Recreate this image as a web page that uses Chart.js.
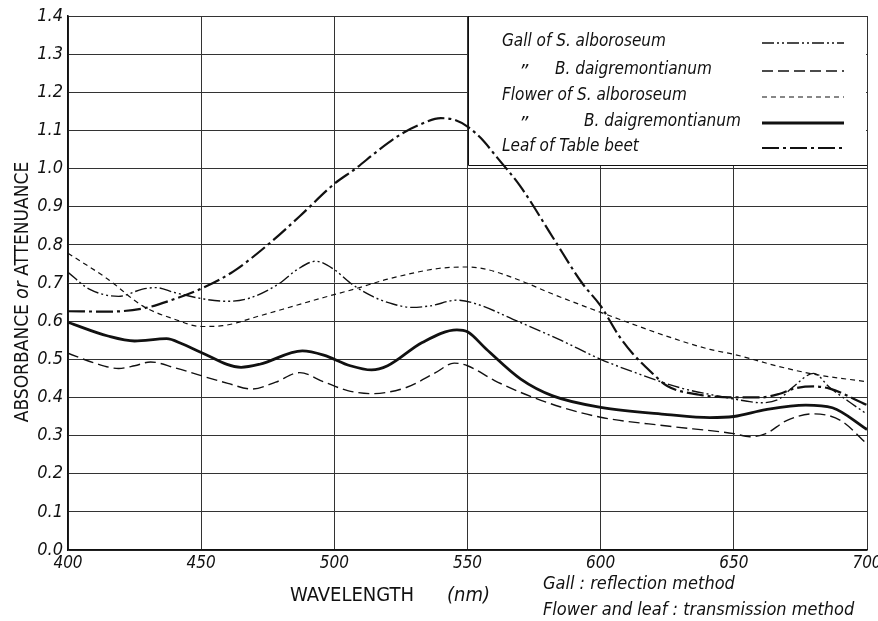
<!DOCTYPE html>
<html>
<head>
<meta charset="utf-8">
<script src="https://cdn.jsdelivr.net/npm/chart.js@4"></script>
<style>
  html, body { margin: 0; padding: 0; background: #fff; }
  canvas { display: block; }
</style>
</head>
<body>
<canvas id="chart" width="878" height="621"></canvas>
<script>
// wavelength (nm) / absorbance
const gallSalbNm  = [400, 408, 419, 428, 433, 440, 451, 460, 468, 479, 486, 493, 500, 506, 514, 522, 529, 536, 546, 552, 570, 585, 600, 615, 630, 647, 655, 660, 667, 672, 680, 686, 693, 700];
const gallSalbAbs = [0.728, 0.684, 0.665, 0.684, 0.688, 0.675, 0.658, 0.652, 0.66, 0.697, 0.735, 0.757, 0.735, 0.70, 0.666, 0.645, 0.636, 0.64, 0.655, 0.648, 0.596, 0.55, 0.5, 0.46, 0.425, 0.40, 0.39, 0.386, 0.396, 0.426, 0.463, 0.426, 0.39, 0.356];

const gallBdaiNm  = [400, 410, 419, 425, 431, 440, 450, 460, 469, 478, 487, 496, 505, 514, 527, 538, 545, 550, 560, 570, 585, 600, 625, 650, 656, 662, 670, 680, 690, 700];
const gallBdaiAbs = [0.516, 0.49, 0.476, 0.483, 0.493, 0.478, 0.457, 0.437, 0.422, 0.44, 0.465, 0.441, 0.418, 0.41, 0.426, 0.465, 0.49, 0.483, 0.445, 0.413, 0.375, 0.348, 0.325, 0.305, 0.297, 0.305, 0.34, 0.357, 0.34, 0.278];

const flowerSalbNm  = [400, 415, 428, 440, 450, 458, 472, 485, 496, 508, 520, 539, 550, 557, 570, 582, 600, 607, 625, 641, 650, 667, 680, 700];
const flowerSalbAbs = [0.778, 0.71, 0.64, 0.605, 0.586, 0.588, 0.614, 0.64, 0.662, 0.685, 0.71, 0.738, 0.742, 0.736, 0.706, 0.671, 0.623, 0.605, 0.56, 0.526, 0.513, 0.481, 0.461, 0.441];

const flowerBdaiNm  = [400, 415, 425, 437, 443, 450, 465, 472, 488, 496, 506, 514, 520, 533, 546, 550, 557, 570, 582, 600, 625, 641, 650, 662, 677, 687, 700];
const flowerBdaiAbs = [0.597, 0.561, 0.548, 0.554, 0.54, 0.518, 0.479, 0.487, 0.522, 0.511, 0.483, 0.472, 0.483, 0.544, 0.577, 0.572, 0.527, 0.448, 0.404, 0.374, 0.355, 0.347, 0.35, 0.368, 0.38, 0.373, 0.316];

const leafNm  = [400, 415, 428, 440, 450, 462, 475, 487, 500, 508, 516, 525, 532, 540, 545, 550, 555, 561, 570, 582, 593, 600, 607, 612, 619, 625, 637, 650, 660, 667, 673, 680, 686, 700];
const leafAbs = [0.626, 0.625, 0.633, 0.658, 0.685, 0.73, 0.80, 0.875, 0.96, 1.0, 1.045, 1.09, 1.115, 1.132, 1.128, 1.11, 1.08, 1.03, 0.952, 0.82, 0.70, 0.64, 0.56, 0.515, 0.466, 0.43, 0.407, 0.40, 0.40, 0.409, 0.424, 0.429, 0.423, 0.38];

const xTicks = [400, 450, 500, 550, 600, 650, 700];
const yTickStep = 0.1;

// legend rows: ditto mark + name
const legendDitto = ["", "\u201D", "", "\u201D", ""];
const legendNames = ["Gall of S. alboroseum", "B. daigremontianum", "Flower of S. alboroseum", "B. daigremontianum", "Leaf of Table beet"];

const FONT = "'Liberation Sans Narrow', 'DejaVu Sans Condensed', 'Open Sans', sans-serif";
const INK = "#111";

const toPoints = (xs, ys) => xs.map((x, i) => ({ x: x, y: ys[i] }));

const datasets = [
  { label: legendNames[0], data: toPoints(gallSalbNm, gallSalbAbs), borderDash: [12, 3, 2, 3, 2, 3], borderWidth: 1.4 },
  { label: legendNames[1], data: toPoints(gallBdaiNm, gallBdaiAbs), borderDash: [11, 5], borderWidth: 1.4 },
  { label: legendNames[2], data: toPoints(flowerSalbNm, flowerSalbAbs), borderDash: [5, 4], borderWidth: 1.2 },
  { label: legendNames[3], data: toPoints(flowerBdaiNm, flowerBdaiAbs), borderDash: [], borderWidth: 2.8 },
  { label: legendNames[4], data: toPoints(leafNm, leafAbs), borderDash: [17, 4, 3, 4], borderWidth: 2.2 },
].map(d => Object.assign(d, {
  borderColor: INK,
  pointRadius: 0,
  fill: false,
  cubicInterpolationMode: "monotone",
}));

// draws text where upper case is upright and lower case italic
function mixedText(ctx, parts, x, y, size) {
  let total = 0;
  parts.forEach(p => {
    ctx.font = (p.italic ? "italic " : "") + size + "px " + FONT;
    total += ctx.measureText(p.text).width;
  });
  let cx = x - total / 2;
  parts.forEach(p => {
    ctx.font = (p.italic ? "italic " : "") + size + "px " + FONT;
    ctx.fillText(p.text, cx, y);
    cx += ctx.measureText(p.text).width;
  });
}

const decorations = {
  id: "decorations",
  beforeDatasetsDraw(chart) {
    const { ctx, chartArea, scales } = chart;
    const left = Math.round(scales.x.getPixelForValue(550));
    const bottom = Math.round(scales.y.getPixelForValue(1.01));
    ctx.save();
    ctx.fillStyle = "#fff";
    ctx.fillRect(left, chartArea.top + 1, chartArea.right - left - 1, bottom - chartArea.top - 1);
    ctx.strokeStyle = INK;
    ctx.lineWidth = 1;
    ctx.beginPath();
    ctx.moveTo(left + 0.5, chartArea.top);
    ctx.lineTo(left + 0.5, bottom + 0.5);
    ctx.lineTo(chartArea.right, bottom + 0.5);
    ctx.stroke();

    // legend entries
    ctx.fillStyle = INK;
    ctx.textBaseline = "middle";
    ctx.font = "italic 17px " + FONT;
    const rowY = [42, 70, 96, 122, 147];
    const nameX = [502, 555, 502, 584, 502];
    legendNames.forEach((name, i) => {
      const y = rowY[i];
      if (legendDitto[i]) {
        ctx.font = "italic 20px " + FONT;
        ctx.fillText(legendDitto[i], 519, y + 3);
        ctx.font = "italic 17px " + FONT;
      }
      ctx.fillText(name, nameX[i], y);
      const ds = chart.data.datasets[i];
      ctx.setLineDash(ds.borderDash);
      ctx.lineWidth = ds.borderWidth;
      ctx.beginPath();
      ctx.moveTo(762, y + 1);
      ctx.lineTo(844, y + 1);
      ctx.stroke();
    });
    ctx.setLineDash([]);
    ctx.restore();
  },
  afterDraw(chart) {
    const { ctx } = chart;
    ctx.save();
    ctx.fillStyle = INK;
    ctx.textBaseline = "middle";
    // y axis title
    ctx.save();
    ctx.translate(23, 292);
    ctx.rotate(-Math.PI / 2);
    mixedText(ctx, [
      { text: "ABSORBANCE ", italic: false },
      { text: "or", italic: true },
      { text: " ATTENUANCE", italic: false },
    ], 0, 0, 19);
    ctx.restore();
    // x axis title
    ctx.textAlign = "left";
    ctx.font = "20px " + FONT;
    ctx.fillText("WAVELENGTH", 290, 596);
    ctx.font = "italic 20px " + FONT;
    ctx.fillText("(nm)", 447, 596);
    // method notes
    ctx.font = "italic 18px " + FONT;
    ctx.fillText("Gall : reflection method", 543, 584);
    ctx.fillText("Flower and leaf : transmission method", 543, 610);
    ctx.restore();
  },
};

new Chart(document.getElementById("chart"), {
  type: "line",
  data: { datasets: datasets },
  options: {
    responsive: false,
    animation: false,
    layout: { padding: { top: 16, right: 11, left: 0, bottom: 0 } },
    plugins: { legend: { display: false }, tooltip: { enabled: false } },
    scales: {
      x: {
        type: "linear",
        min: 400,
        max: 700,
        afterBuildTicks(scale) { scale.ticks = xTicks.map(v => ({ value: v })); },
        afterFit(scale) { scale.height = 71; scale.paddingRight = 0; scale.paddingLeft = 0; },
        ticks: {
          color: INK,
          padding: 3,
          maxRotation: 0,
          font: { family: FONT, size: 17, style: "italic" },
        },
        grid: { color: "#333", lineWidth: 1, drawTicks: false },
        border: { color: INK, width: 1.6 },
      },
      y: {
        min: 0,
        max: 1.4,
        afterFit(scale) { scale.width = 68; scale.paddingTop = 0; scale.paddingBottom = 0; },
        ticks: {
          stepSize: yTickStep,
          color: INK,
          padding: 5,
          font: { family: FONT, size: 18, style: "italic" },
          callback: v => v.toFixed(1),
        },
        grid: { color: "#333", lineWidth: 1, drawTicks: false },
        border: { color: INK, width: 1.6 },
      },
    },
  },
  plugins: [decorations],
});
</script>
</body>
</html>
